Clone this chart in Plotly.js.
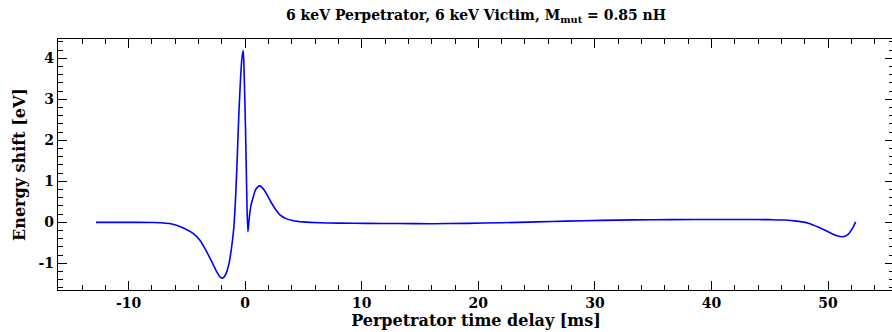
<!DOCTYPE html>
<html>
<head>
<meta charset="utf-8">
<script src="https://cdn.plot.ly/plotly-3.0.1.min.js"></script>
<style>
  html, body { margin: 0; padding: 0; overflow: hidden; background: #fff; }
  #chart { width: 894px; height: 332px; }
</style>
</head>
<body>
<div id="chart"></div>
<script>
// Perpetrator time delay [ms]
const delayMs = [
  -12.8, -10, -8, -7.3, -6.5, -5.9, -5.2, -4.47, -3.9, -3.3, -2.8, -2.45, -2.2, -1.98,
  -1.8, -1.6, -1.4, -1.2, -1.0, -0.85, -0.7, -0.55, -0.4, -0.28, -0.17, -0.08, 0.03, 0.12, 0.23,
  0.35, 0.5, 0.69, 0.9, 1.26, 1.6, 2.12, 2.5, 2.98, 3.5, 4.13, 5, 6.4, 8,
  10.4, 13, 16, 19, 22, 25, 27.6, 30.5, 33.3, 36.5, 40.8, 43, 45, 46.3, 47.3,
  48.3, 49.2, 50.0, 50.7, 51.3, 51.7, 52.0, 52.2, 52.37
];
// Energy shift [eV]
const energyShift = [
  0, 0, -0.005, -0.01, -0.03, -0.07, -0.15, -0.27, -0.43, -0.72, -1.0, -1.2, -1.32, -1.36,
  -1.33, -1.22, -1.02, -0.68, -0.2, 0.45, 1.45, 2.6, 3.5, 4.0, 4.19, 3.5, 2.25, 0.9, -0.23,
  0.12, 0.42, 0.62, 0.8, 0.89, 0.8, 0.54, 0.36, 0.18, 0.09, 0.04, 0.01, -0.01, -0.02,
  -0.025, -0.03, -0.033, -0.025, -0.01, 0.01, 0.03, 0.048, 0.06, 0.067, 0.07, 0.07, 0.065, 0.056, 0.03,
  -0.02, -0.12, -0.23, -0.32, -0.35, -0.3, -0.19, -0.09, 0.01
];
const xTickVals = [-10, 0, 10, 20, 30, 40, 50];
const xTickText = ['-10', '0', '10', '20', '30', '40', '50'];
const yTickVals = [-1, 0, 1, 2, 3, 4];
const yTickText = ['-1', '0', '1', '2', '3', '4'];

const serif = '"DejaVu Serif", "Liberation Serif", serif';

const trace = {
  x: delayMs,
  y: energyShift,
  type: 'scatter',
  mode: 'lines',
  line: { color: '#0000ff', width: 1.6, shape: 'spline', smoothing: 0.8 },
  hoverinfo: 'skip'
};

const axisCommon = {
  showline: true, linecolor: '#000', linewidth: 1.2,
  mirror: 'allticks', ticks: 'inside', ticklen: 9, tickwidth: 1, tickcolor: '#000',
  showgrid: false, zeroline: false,
  tickfont: { family: serif, size: 14, color: '#000', weight: 'bold' }
};

const layout = {
  width: 894, height: 332,
  margin: { l: 58, r: 0, t: 39, b: 42 },
  paper_bgcolor: '#fff', plot_bgcolor: '#fff',
  showlegend: false,
  title: {
    text: '6 keV Perpetrator, 6 keV Victim, M<sub>mut</sub> = 0.85 nH',
    font: { family: serif, size: 14, color: '#000', weight: 'bold' },
    x: 0.5, xref: 'paper', y: 0.955, yref: 'container', yanchor: 'middle'
  },
  xaxis: Object.assign({}, axisCommon, {
    range: [-16.06, 55.66],
    tickvals: xTickVals, ticktext: xTickText,
    minor: { dtick: 2, tick0: 0, ticks: 'inside', ticklen: 5, tickwidth: 1, tickcolor: '#000' },
    title: { text: 'Perpetrator time delay [ms]', font: { family: serif, size: 16, color: '#000', weight: 'bold' }, standoff: 4 }
  }),
  yaxis: Object.assign({}, axisCommon, {
    range: [-1.65, 4.47],
    tickvals: yTickVals, ticktext: yTickText,
    minor: { dtick: 0.2, tick0: 0, ticks: 'inside', ticklen: 5, tickwidth: 1, tickcolor: '#000' },
    title: { text: 'Energy shift [eV]', font: { family: serif, size: 16, color: '#000', weight: 'bold' }, standoff: 8 }
  })
};

Plotly.newPlot('chart', [trace], layout, { displayModeBar: false, staticPlot: true });
</script>
</body>
</html>
